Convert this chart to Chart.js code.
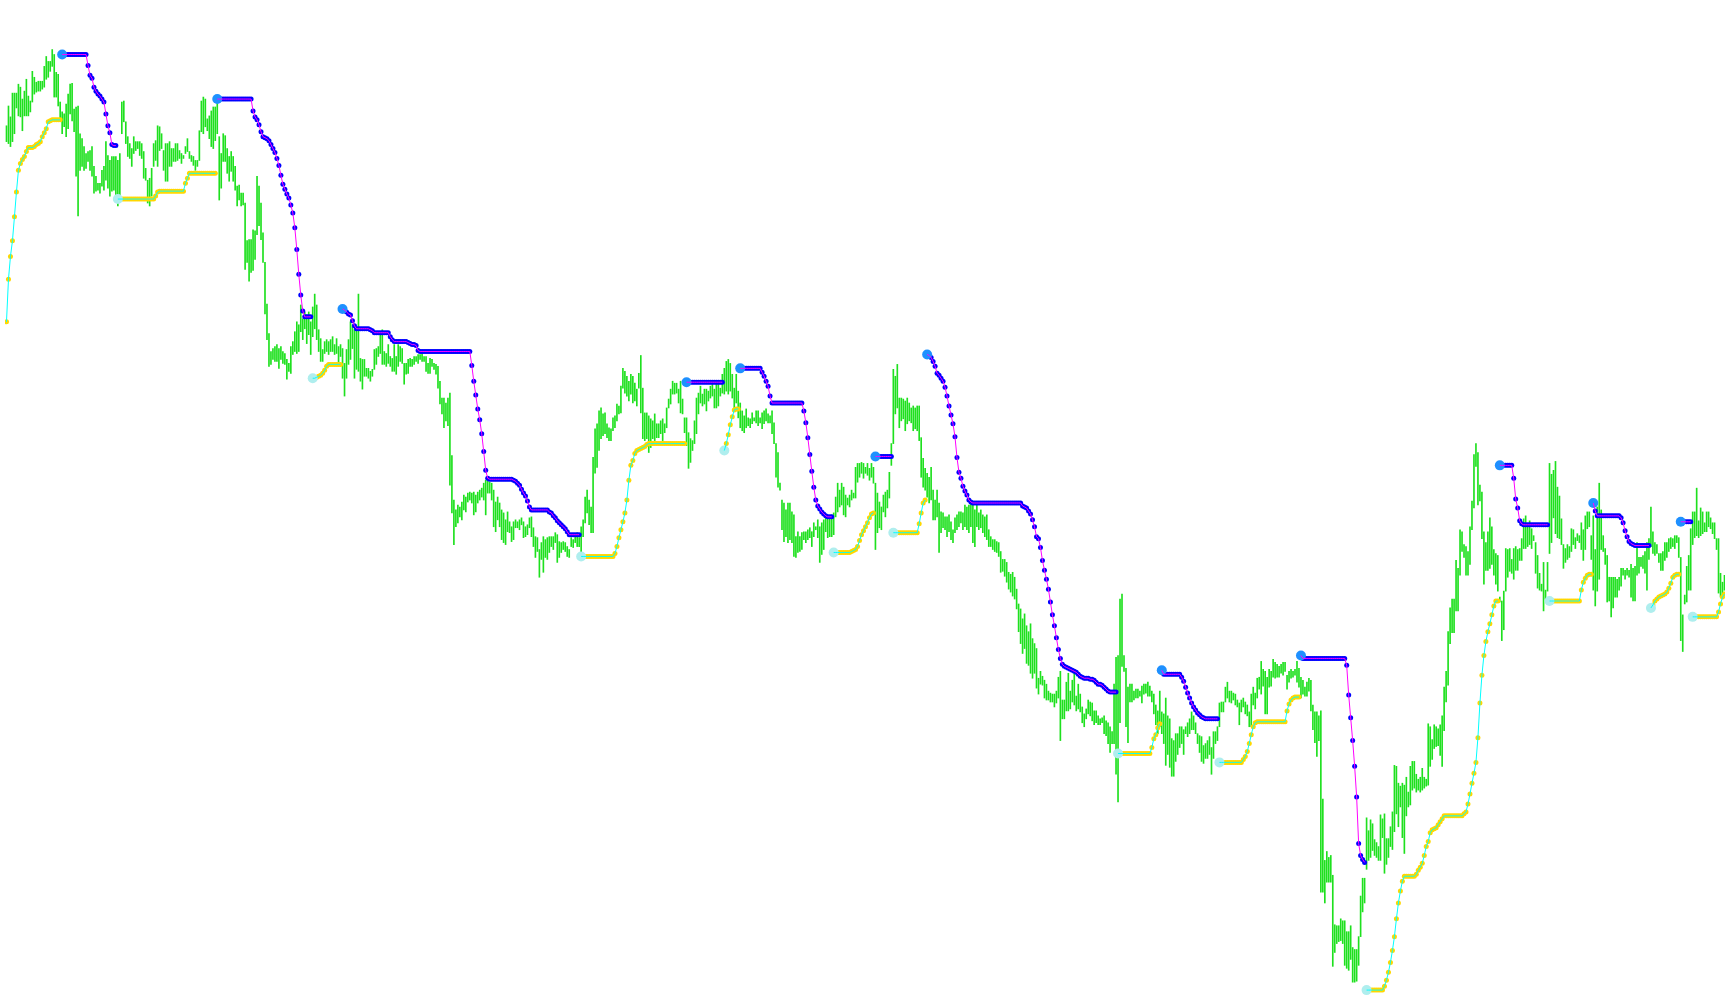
<!DOCTYPE html>
<html>
<head>
<meta charset="utf-8">
<title>Trend stop chart</title>
<script src="https://cdn.jsdelivr.net/npm/chart.js"></script>
<style>
  html, body { margin: 0; padding: 0; background: #ffffff; }
  canvas { display: block; }
</style>
</head>
<body>
<canvas id="chart" width="1730" height="1005"></canvas>
<script>
'use strict';

// bar highs, one per bar
let highs = [
  883,903,892,916,916,916,925,922,910,918, 930,913,908,938,932,927,928,928,928,943,
  953,948,948,960,955,937,935,907,897,895, 905,915,925,926,900,902,903,875,870,862,
  855,857,858,862,842,832,825,825,838,842, 867,853,848,852,852,852,848,855,907,908,
  887,872,865,860,872,867,867,867,865,857, 840,828,830,840,865,868,883,882,875,858,
  865,865,867,860,860,865,865,858,855,853, 862,870,857,853,852,848,848,878,908,912,
  910,890,893,898,902,902,910,872,855,875, 873,860,852,857,852,842,822,823,815,815,
  805,767,768,768,778,777,832,822,805,775, 745,703,673,655,658,660,662,658,660,655,
  653,647,643,660,665,675,685,682,702,688, 695,692,695,685,700,713,702,677,668,657,
  665,667,665,667,670,662,668,660,662,658, 643,657,667,685,682,677,678,713,648,647,
  647,638,638,635,637,657,658,660,672,677, 655,653,662,650,648,662,650,662,660,658,
  643,643,647,648,647,650,650,652,652,653, 650,650,643,648,647,643,642,640,625,608,
  608,603,608,613,550,505,495,500,498,503, 510,508,512,513,512,513,510,513,515,517,
  522,525,525,523,522,515,503,508,502,495, 492,485,493,483,478,483,485,483,485,487,
  483,478,480,487,488,477,468,467,455,462, 468,465,467,468,468,468,472,470,463,462,
  463,462,458,455,467,465,468,472,467,478, 485,508,515,505,498,548,577,582,595,598,
  592,593,582,578,577,588,590,602,600,620, 638,635,630,625,632,630,623,617,633,651,
  618,593,593,590,587,585,592,582,582,585, 587,582,598,607,617,625,623,623,617,625,
  607,588,588,573,567,565,585,608,613,620, 612,617,617,615,620,622,617,625,625,618,
  632,638,645,647,643,632,618,632,615,603, 595,590,597,588,587,593,588,595,595,588,
  593,595,597,592,590,595,583,562,553,522, 505,502,495,502,502,493,490,468,473,468,
  472,473,473,475,477,473,482,478,485,478, 482,485,487,488,487,490,492,508,522,515,
  522,518,510,507,510,515,512,538,542,542, 543,542,538,542,537,542,538,522,512,503,
  498,510,513,515,533,562,637,630,642,608, 608,607,605,608,603,598,600,598,600,600,
  568,547,537,532,528,538,515,505,515,502, 493,492,488,488,490,483,475,487,490,493,
  493,492,500,498,500,502,502,495,500,492, 495,490,488,490,475,468,465,465,463,462,
  453,445,445,442,432,430,432,427,415,400, 395,385,390,378,372,380,365,360,355,325,
  332,327,323,319,312,310,309,309,312,326, 332,303,303,321,330,312,323,330,307,319,
  309,296,289,294,303,301,300,292,292,287, 284,285,287,282,280,276,271,319,346,348,
  405,410,348,335,316,319,319,312,314,314, 312,317,319,319,321,317,312,309,298,292,
  312,291,289,305,287,284,264,262,269,269, 276,276,273,276,280,284,291,287,280,269,
  267,266,257,259,262,266,255,271,271,276, 300,301,301,316,321,312,312,310,309,303,
  300,303,305,301,298,291,309,316,310,325, 326,342,334,332,326,334,332,344,341,339,
  337,339,341,341,328,332,334,332,334,342, 335,326,323,316,321,325,323,298,291,291,
  287,292,203,141,150,144,146,126,76,75, 75,82,80,80,69,69,75,53,51,51,
  64,105,123,123,184,171,182,178,162,159, 155,187,183,188,163,163,175,190,237,236,
  219,216,219,217,225,210,236,241,241,228, 223,225,234,225,223,279,276,263,278,276,
  274,278,287,316,332,372,396,405,405,444, 436,475,473,460,458,453,478,504,551,562,
  553,520,513,473,462,473,487,478,455,451, 449,407,403,413,456,455,456,445,456,458,
  455,456,466,486,489,478,484,476,469,462, 449,431,420,442,414,442,542,531,535,544,
  518,509,486,460,456,460,458,476,475,467, 471,469,482,475,489,493,493,469,489,455,
  498,522,495,469,456,449,427,427,427,427, 425,427,436,436,434,436,434,440,436,438,
  462,447,447,449,453,462,466,498,473,462, 460,451,451,453,462,462,466,467,466,469,
  469,467,447,389,409,438,449,476,493,493, 517,484,497,493,482,493,493,487,482,482,
  466,466,431,422,429
];

// bar lows, one per bar
let lows = [
  867,865,862,867,875,901,893,892,878,893, 893,893,897,907,915,917,918,918,920,922,
  930,932,938,943,912,912,903,888,875,882, 872,880,895,888,877,832,792,838,842,838,
  840,847,838,832,815,817,818,815,822,818, 828,820,812,817,818,813,802,808,875,887,
  865,852,850,842,855,858,860,853,850,830, 828,805,802,812,842,848,842,858,860,838,
  827,827,842,842,847,847,848,850,845,850, 855,857,850,847,843,838,842,848,877,875,
  882,878,870,862,860,868,875,808,820,847, 847,835,827,837,827,818,802,808,802,803,
  738,745,726,735,737,748,773,782,768,745, 693,667,640,642,647,645,645,638,647,643,
  642,627,635,633,652,655,653,655,675,667, 678,663,672,652,670,678,667,655,645,645,
  653,655,652,655,655,652,653,643,650,628, 610,628,642,647,658,628,637,635,625,617,
  630,630,628,625,630,637,642,650,653,642, 642,640,643,640,635,635,632,640,645,643,
  622,632,633,640,640,642,645,643,647,645, 645,635,633,633,640,637,632,618,602,592,
  578,585,580,520,492,460,478,482,488,485, 495,493,503,505,502,490,493,502,505,508,
  505,490,512,512,505,478,473,485,478,465, 462,460,473,472,463,465,477,477,475,480,
  467,468,470,477,468,458,447,453,427,445, 432,447,445,452,458,455,462,442,447,452,
  455,453,448,447,458,457,462,458,458,452, 468,482,492,480,472,472,532,538,555,567,
  570,572,568,565,565,575,578,585,592,593, 618,613,610,605,612,603,605,600,618,593,
  567,565,567,553,558,567,565,568,568,572, 565,573,578,598,602,612,612,613,603,593,
  592,573,560,537,543,555,562,572,592,603, 600,602,595,605,608,610,598,598,600,610,
  613,612,615,612,615,608,597,603,588,578, 575,573,578,580,578,582,585,583,580,583,
  577,582,585,583,583,572,562,528,518,515, 475,463,468,462,465,462,448,447,452,453,
  455,465,462,465,467,458,468,475,467,442, 450,455,473,467,468,468,470,488,493,498,
  500,490,488,500,498,505,507,507,523,528, 532,527,532,530,525,528,522,455,472,477,
  475,493,488,497,507,540,562,592,598,578, 585,587,575,582,585,583,575,577,575,565,
  528,518,515,508,502,505,485,485,488,452, 472,477,475,468,473,465,462,472,475,478,
  482,475,478,475,472,478,462,458,478,475, 477,472,468,465,458,458,455,453,452,448,
  432,433,428,422,415,412,408,405,395,372, 360,350,355,340,338,330,325,330,315,309,
  319,318,305,303,303,301,301,296,300,305, 262,284,284,292,292,294,301,298,292,294,
  291,280,276,284,289,287,282,278,280,278, 278,280,269,267,259,250,259,259,228,200,
  280,337,332,276,260,301,301,303,305,305, 307,300,309,310,307,307,301,289,278,269,
  276,269,259,237,248,235,226,226,241,248, 255,259,248,269,266,269,273,273,269,259,
  250,241,239,244,244,248,228,244,259,262, 276,291,291,301,305,301,300,303,298,296,
  278,291,296,289,287,276,276,298,294,305, 314,309,317,289,289,316,317,326,325,326,
  326,330,328,332,314,321,325,326,328,321, 316,305,309,307,307,312,292,273,260,246,
  262,109,109,98,119,119,119,34,48,57, 59,60,57,35,32,30,41,18,18,19,
  35,64,89,98,132,141,144,151,146,144, 141,141,164,128,137,144,155,152,170,188,
  175,195,164,148,186,195,197,212,214,210, 212,210,212,214,216,217,236,243,254,256,
  257,247,236,272,301,318,360,371,371,393, 393,429,453,447,429,429,440,475,497,539,
  500,504,466,420,434,434,436,440,429,420, 413,402,363,374,413,427,433,431,425,434,
  434,444,444,456,456,458,460,456,464,431, 416,414,413,393,405,413,451,462,487,471,
  467,466,460,436,442,445,447,453,460,456, 464,462,455,444,455,476,478,445,414,398,
  413,425,455,453,440,402,403,387,396,407, 407,414,418,429,425,429,427,407,403,403,
  429,431,438,436,431,414,445,458,451,449, 451,442,434,434,444,447,453,456,458,456,
  462,447,363,352,400,402,414,414,460,467, 469,467,469,471,473,473,478,476,471,466,
  455,411,407,407,414
];

// trailing stop value at every bar
let stops = [
  685,728,751,767,791,816,838,845,849,852,857,861,861,861,862,864,865,867,872,876,880,887,888,889,889,889,889,889,
  955,955,955,955,955,955,955,955,955,955,955,955,955,
  944,934,931,922,918,915,913,910,907,895,883,876,864,863,863,
  809,809,809,809,809,809,809,809,809,809,809,809,809,809,809,809,809,809,809,
  812,816,
  817,817,817,817,817,817,817,817,817,817,817,817,817,
  825,830,
  835,835,835,835,835,835,835,835,835,835,835,835,835,835,
  910,910,910,910,910,910,910,910,910,910,910,910,910,910,910,910,910,910,
  898,892,889,884,877,872,871,870,868,864,860,856,850,843,833,824,819,814,810,803,795,780,758,733,712,696,
  690,690,690,690,
  628,628,629,630,631,633,636,640,642,642,642,642,642,642,642,
  698,697,695,693,692,686,681,
  678,678,678,678,678,678,678,
  677,676,
  674,674,674,674,674,674,674,674,
  670,667,
  665,665,665,665,665,665,665,
  664,663,662,662,661,656,
  655,655,655,655,655,655,655,655,655,655,655,655,655,655,655,655,655,655,655,655,655,655,655,655,655,655,
  641,625,611,597,586,572,554,535,527,
  526,526,526,526,526,526,526,526,526,526,526,526,
  525,524,522,520,516,512,509,504,498,
  495,495,495,495,495,495,495,495,495,
  493,492,489,487,484,482,480,478,476,473,
  470,470,470,470,470,470,
  448,448,448,448,448,448,448,448,448,448,448,448,448,448,448,448,448,
  451,458,467,475,483,492,505,525,540,545,552,555,556,557,558,559,561,
  562,562,562,562,562,562,562,562,562,562,562,562,562,562,562,562,562,562,562,
  624,624,624,624,624,624,624,624,624,624,624,624,624,624,624,624,624,624,624,
  555,562,571,581,589,596,597,597,
  638,638,638,638,638,638,638,638,638,638,638,
  634,630,625,620,610,
  603,603,603,603,603,603,603,603,603,603,603,603,603,603,603,603,
  595,583,568,551,534,518,505,499,496,493,491,489,488,488,488,
  452,452,452,452,452,452,452,452,452,
  453,454,455,458,464,470,474,478,482,487,491,492,
  549,549,549,549,549,549,549,549,549,
  472,472,472,472,472,472,472,472,472,472,472,472,472,
  481,492,502,505,
  652,651,649,645,640,633,631,628,625,619,610,600,591,582,569,548,533,527,519,514,510,505,503,
  502,502,502,502,502,502,502,502,502,502,502,502,502,502,502,502,502,502,502,502,502,502,502,502,502,
  499,498,497,494,491,485,478,468,
  466,457,444,434,425,415,402,389,378,366,
  354,345,339,337,336,335,334,333,332,331,
  329,327,326,325,325,325,324,324,323,321,
  319,319,318,316,314,312,311,311,311,311,
  249,249,249,249,249,249,249,249,249,249,249,249,249,249,249,249,249,
  255,264,268,275,279,
  333,
  329,329,329,329,329,329,329,329,329,
  326,322,316,310,305,300,296,293,290,288,286,285,
  284,284,284,284,284,284,284,
  240,240,240,240,240,240,240,240,240,240,240,240,
  243,246,251,259,268,276,280,
  281,281,281,281,281,281,281,281,281,281,281,281,281,281,281,
  292,299,303,305,306,306,306,
  348,
  345,345,345,345,345,345,345,345,345,345,345,345,345,345,345,345,345,345,345,345,345,345,
  338,308,285,262,236,205,158,146,142,139,
  10,10,10,10,10,10,10,10,10,
  14,20,28,38,50,64,82,98,110,120,
  125,125,125,125,125,125,
  127,131,134,138,146,155,160,169,172,173,174,177,180,183,
  186,186,186,186,186,186,186,186,186,186,
  188,190,198,208,219,229,240,265,300,328,348,362,372,380,389,398,403,403,
  540,540,540,540,540,540,540,
  527,506,497,484,481,
  480,480,480,480,480,480,480,480,480,480,480,480,480,
  403,403,403,403,403,403,403,403,403,403,403,403,403,403,403,403,
  414,422,426,429,430,430,
  502,494,
  489,489,489,489,489,489,489,489,489,489,489,489,
  487,482,474,468,463,461,460,
  459,459,459,459,459,459,459,459,
  396,399,403,405,407,408,409,410,412,416,421,427,429,430,430,
  483,483,483,483,483,483,
  387,387,387,387,387,387,387,387,387,387,387,387,387,
  392,400,407,410
];

// bars where the stop flips side; the first stretch is a rising one
let flips = [28, 56, 106, 154, 169, 289, 342, 361, 369, 416, 437, 446, 463,
  559, 581, 610, 651, 684, 751, 776, 798, 827, 842, 848];
let startsRising = true;

let canvasElem = document.getElementById('chart');

function renderChart() {
  let count = highs.length;

  let barPoints = [];
  for (let i = 0; i < count; i++) {
    barPoints.push({ x: i, y: [lows[i], highs[i]] });
  }

  let risingStops = [];
  let fallingStops = [];
  let risingStarts = [];
  let fallingStarts = [];
  let rising = startsRising;
  for (let i = 0; i < count; i++) {
    let value = stops[i] === undefined ? null : stops[i];
    if (flips.includes(i)) {
      rising = !rising;
      if (rising) risingStarts.push({ x: i, y: value });
      else fallingStarts.push({ x: i, y: value });
    }
    risingStops.push({ x: i, y: rising ? value : null });
    fallingStops.push({ x: i, y: rising ? null : value });
  }

  let chartObj = {
    type: 'bar',
    data: {
      datasets: [
        {
          type: 'line',
          data: fallingStops,
          borderColor: '#ff00ff',
          borderWidth: 1,
          pointRadius: 0,
          spanGaps: false,
          tension: 0,
          order: 0
        },
        {
          type: 'line',
          data: risingStops,
          borderColor: '#00ffff',
          borderWidth: 1,
          pointRadius: 0,
          spanGaps: false,
          tension: 0,
          order: 0
        },
        {
          type: 'line',
          data: fallingStarts,
          showLine: false,
          pointRadius: 5,
          pointBorderWidth: 0,
          pointBackgroundColor: '#1e90ff',
          order: 1
        },
        {
          type: 'line',
          data: risingStarts,
          showLine: false,
          pointRadius: 5,
          pointBorderWidth: 0,
          pointBackgroundColor: '#afeeee',
          order: 1
        },
        {
          type: 'line',
          data: fallingStops,
          showLine: false,
          pointRadius: 2.5,
          pointBorderWidth: 0,
          pointBackgroundColor: '#0000ff',
          order: 2
        },
        {
          type: 'line',
          data: risingStops,
          showLine: false,
          pointRadius: 2.5,
          pointBorderWidth: 0,
          pointBackgroundColor: '#ffd700',
          order: 2
        },
        {
          type: 'bar',
          data: barPoints,
          backgroundColor: '#1ee01e',
          borderWidth: 0,
          barThickness: 1,
          grouped: false,
          order: 3
        }
      ]
    },
    options: {
      responsive: false,
      animation: false,
      events: [],
      layout: { padding: 0 },
      scales: {
        x: {
          type: 'linear',
          display: false,
          offset: false,
          min: -0.75,
          max: highs.length - 0.75
        },
        y: {
          type: 'linear',
          display: false,
          min: 0,
          max: 1005
        }
      },
      plugins: {
        legend: { display: false },
        tooltip: { enabled: false }
      }
    }
  };

  new Chart(canvasElem, chartObj); //eslint-disable-line
}

renderChart();
</script>
</body>
</html>
